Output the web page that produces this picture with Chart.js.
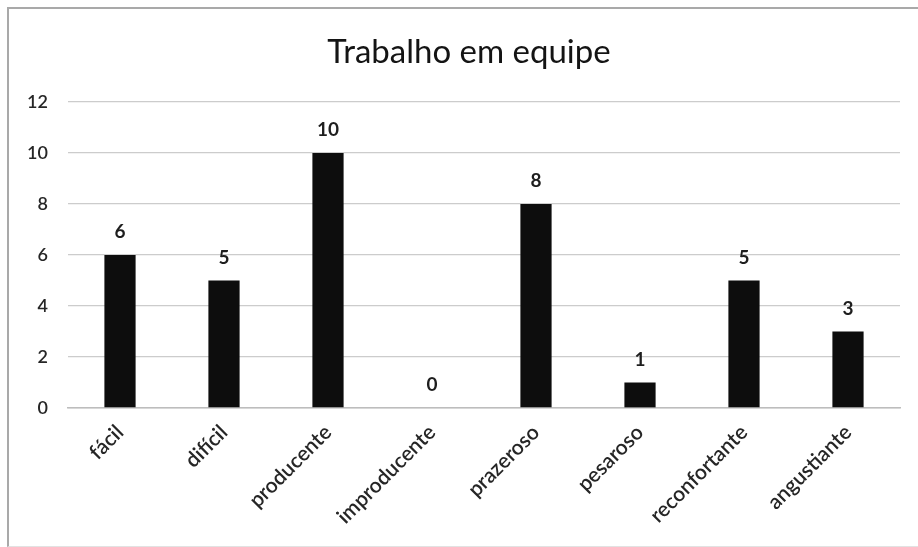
<!DOCTYPE html>
<html>
<head>
<meta charset="utf-8">
<script src="https://cdn.jsdelivr.net/npm/chart.js@4/dist/chart.umd.min.js"></script>
<style>
  html, body { margin: 0; padding: 0; background: #fff; }
  #wrap { position: relative; width: 918px; height: 547px; overflow: hidden; }
  #frame {
    position: absolute; left: 7px; top: 7px; width: 930px; height: 537px;
    border-left: 2px solid #a9a9a9; border-top: 2px solid #a9a9a9; border-bottom: 1px solid #e2e2e2;
    pointer-events: none;
  }
  canvas { position: absolute; left: 0; top: 0; }
</style>
</head>
<body>
<div id="wrap">
  <canvas id="c" width="918" height="547"></canvas>
  <div id="frame"></div>
</div>
<script>
const chartTitle = "Trabalho em equipe";
const categories = ["fácil", "difícil", "producente", "improducente", "prazeroso", "pesaroso", "reconfortante", "angustiante"];
const counts = [6, 5, 10, 0, 8, 1, 5, 3];
const yTicks = [0, 2, 4, 6, 8, 10, 12];

const FONT = "Lato, 'Open Sans', sans-serif";

// Writes each bar's value just above its top
const valueLabels = {
  id: 'valueLabels',
  afterDatasetsDraw(chart) {
    const ctx = chart.ctx;
    const meta = chart.getDatasetMeta(0);
    ctx.save();
    ctx.font = "bold 19px " + FONT;
    ctx.fillStyle = "#1e1e1e";
    ctx.textAlign = "center";
    ctx.textBaseline = "middle";
    meta.data.forEach((bar, i) => {
      ctx.fillText(String(counts[i]), bar.x, bar.y - 23);
    });
    ctx.restore();
  }
};

// Title centred over the framed area rather than the plot
const frameTitle = {
  id: 'frameTitle',
  afterDraw(chart) {
    const ctx = chart.ctx;
    ctx.save();
    ctx.font = "33px " + FONT;
    ctx.fillStyle = "#141414";
    ctx.textAlign = "center";
    ctx.textBaseline = "middle";
    ctx.fillText(chartTitle, (8 + chart.width + 12) / 2, 52);
    ctx.restore();
  }
};

new Chart(document.getElementById('c'), {
  type: 'bar',
  data: {
    labels: categories,
    datasets: [{
      data: counts,
      backgroundColor: '#0d0d0d',
      borderWidth: 0,
      barPercentage: 0.3,
      categoryPercentage: 1.0
    }]
  },
  options: {
    responsive: false,
    animation: false,
    layout: { padding: { left: 0, right: 18, top: 102, bottom: 0 } },
    plugins: {
      legend: { display: false },
      tooltip: { enabled: false },
      title: { display: false }
    },
    scales: {
      x: {
        grid: { display: false, drawTicks: false },
        border: { display: true, color: '#bdbdbd', width: 1.5 },
        ticks: {
          color: '#262626',
          font: { family: FONT, size: 21, weight: '600' },
          maxRotation: 45, minRotation: 45,
          padding: 12,
          autoSkip: false
        },
        afterFit(scale) { scale.height = 139; }
      },
      y: {
        min: 0, max: 12,
        afterBuildTicks(scale) { scale.ticks = yTicks.map(v => ({ value: v })); },
        grid: { color: '#cccccc', lineWidth: 1.3, drawTicks: false },
        border: { display: false },
        ticks: {
          color: '#262626',
          font: { family: FONT, size: 18, weight: '600' },
          padding: 20
        },
        afterFit(scale) { scale.width = 68; }
      }
    }
  },
  plugins: [valueLabels, frameTitle]
});
</script>
</body>
</html>
